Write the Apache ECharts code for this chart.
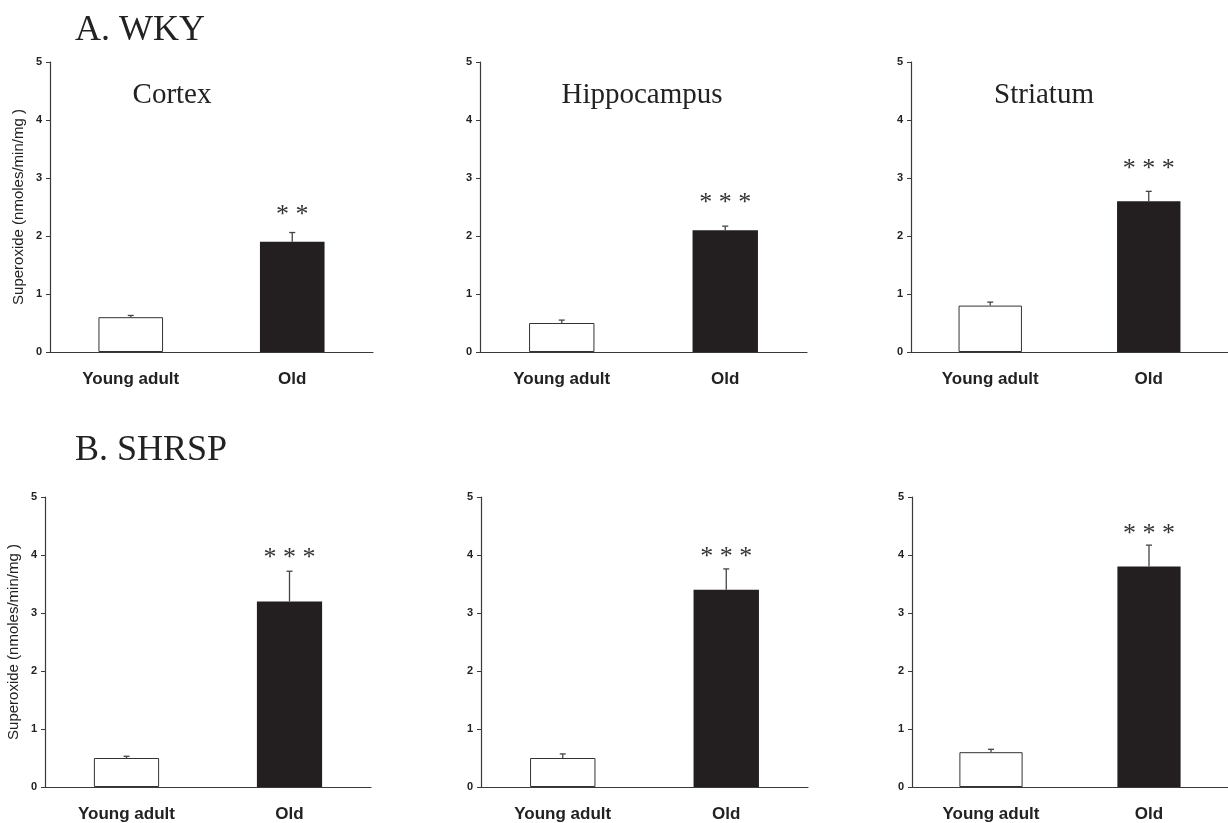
<!DOCTYPE html>
<html>
<head>
<meta charset="utf-8">
<title>Superoxide - WKY / SHRSP</title>
<script src="https://cdn.jsdelivr.net/npm/echarts@6/dist/echarts.min.js"></script>
<style>
  html, body { margin: 0; padding: 0; background: #fff; }
  #chart { width: 1228px; height: 823px; }
</style>
</head>
<body>
<div id="chart"></div>
<script>
// data
const categories = ['Young adult', 'Old'];
const regions = ['Cortex', 'Hippocampus', 'Striatum'];

const wkyYoung = [0.6, 0.5, 0.8];
const wkyOld = [1.9, 2.1, 2.6];
const wkyYoungErr = [0.03, 0.05, 0.06];
const wkyOldErr = [0.16, 0.07, 0.17];
const wkyStars = ['* *', '* * *', '* * *'];
const wkyStarY = [2.45, 2.65, 3.23];

const shrspYoung = [0.5, 0.5, 0.6];
const shrspOld = [3.2, 3.4, 3.8];
const shrspYoungErr = [0.03, 0.07, 0.05];
const shrspOldErr = [0.52, 0.36, 0.37];
const shrspStars = ['* * *', '* * *', '* * *'];
const shrspStarY = [4.03, 4.05, 4.44];

const yTicks = [0, 1, 2, 3, 4, 5];

// panel boxes (px): left, top, width, height
const boxes = [
  [50, 62, 323, 290], [480, 62, 327, 290], [911, 62, 328, 290],
  [45, 497, 326, 290], [481, 497, 327, 291], [912, 497, 328, 291]
];
// where the region names sit (center x, top y)
const regionPos = [[167, 76], [637, 76], [1039, 76]];

const axisColor = '#3a3a3a';
const chart = echarts.init(document.getElementById('chart'));

const grid = [], xAxis = [], yAxis = [], series = [];

const panels = [];
for (let i = 0; i < 3; i++) {
  panels.push({ young: wkyYoung[i], old: wkyOld[i], yErr: wkyYoungErr[i], oErr: wkyOldErr[i], stars: wkyStars[i], starY: wkyStarY[i] });
}
for (let i = 0; i < 3; i++) {
  panels.push({ young: shrspYoung[i], old: shrspOld[i], yErr: shrspYoungErr[i], oErr: shrspOldErr[i], stars: shrspStars[i], starY: shrspStarY[i] });
}

panels.forEach(function (p, i) {
  const b = boxes[i];
  grid.push({ left: b[0], top: b[1], width: b[2], height: b[3] });
  xAxis.push({
    type: 'category',
    gridIndex: i,
    data: categories,
    axisLine: { lineStyle: { color: axisColor, width: 1.2 } },
    axisTick: { length: 5, lineStyle: { color: axisColor } },
    axisLabel: { margin: 19, color: '#222', fontSize: 17, fontWeight: 'bold', fontFamily: 'Liberation Sans, Arial, sans-serif' }
  });
  yAxis.push({
    type: 'value',
    gridIndex: i,
    min: 0,
    max: yTicks[yTicks.length - 1],
    interval: 1,
    splitLine: { show: false },
    axisLine: { show: true, lineStyle: { color: axisColor, width: 1.2 } },
    axisTick: { show: true, length: 4, lineStyle: { color: axisColor } },
    axisLabel: { margin: 8, color: '#222', fontSize: 11, fontWeight: 'bold', fontFamily: 'Liberation Sans, Arial, sans-serif' },
    name: i % 3 === 0 ? 'Superoxide (nmoles/min/mg )' : '',
    nameLocation: 'middle',
    nameGap: 24,
    nameRotate: 90,
    nameTextStyle: { color: '#222', fontSize: 15, fontFamily: 'Liberation Sans, Arial, sans-serif' }
  });

  series.push({
    type: 'bar',
    xAxisIndex: i,
    yAxisIndex: i,
    barWidth: '40%',
    data: [
      { value: p.young, itemStyle: { color: '#fff', borderColor: '#333', borderWidth: 1 } },
      { value: p.old, itemStyle: { color: '#231f20' } }
    ]
  });

  // error bars (upper only)
  series.push({
    type: 'custom',
    xAxisIndex: i,
    yAxisIndex: i,
    z: 5,
    data: [[0, p.young, p.yErr], [1, p.old, p.oErr]],
    renderItem: function (params, api) {
      const x = api.value(0), m = api.value(1), e = api.value(2);
      const base = api.coord([x, m]);
      const top = api.coord([x, m + e]);
      const st = { stroke: '#444', lineWidth: 1.3 };
      return {
        type: 'group',
        children: [
          { type: 'line', shape: { x1: base[0], y1: base[1], x2: top[0], y2: top[1] }, style: st },
          { type: 'line', shape: { x1: top[0] - 3, y1: top[1], x2: top[0] + 3, y2: top[1] }, style: st }
        ]
      };
    }
  });

  // significance stars over the Old bar
  series.push({
    type: 'custom',
    xAxisIndex: i,
    yAxisIndex: i,
    z: 6,
    data: [[1, p.starY]],
    renderItem: function (params, api) {
      const pt = api.coord([api.value(0), api.value(1)]);
      return {
        type: 'text',
        x: pt[0],
        y: pt[1] + 5,
        style: {
          text: p.stars,
          fill: '#333',
          font: '26px "Liberation Serif", "Times New Roman", serif',
          textAlign: 'center',
          textVerticalAlign: 'middle'
        }
      };
    }
  });
});

const titles = [
  { text: 'A. WKY', left: 70, top: 8, textStyle: { fontSize: 36, fontWeight: 'normal', color: '#222', fontFamily: 'Liberation Serif, Times New Roman, serif' } },
  { text: 'B. SHRSP', left: 70, top: 428, textStyle: { fontSize: 36, fontWeight: 'normal', color: '#222', fontFamily: 'Liberation Serif, Times New Roman, serif' } }
];
regions.forEach(function (r, i) {
  titles.push({
    text: r,
    left: regionPos[i][0],
    top: regionPos[i][1],
    textAlign: 'center',
    textStyle: { fontSize: 29, fontWeight: 'normal', color: '#222', fontFamily: 'Liberation Serif, Times New Roman, serif' }
  });
});

chart.setOption({
  animation: false,
  backgroundColor: '#fff',
  title: titles,
  grid: grid,
  xAxis: xAxis,
  yAxis: yAxis,
  series: series
});
</script>
</body>
</html>
